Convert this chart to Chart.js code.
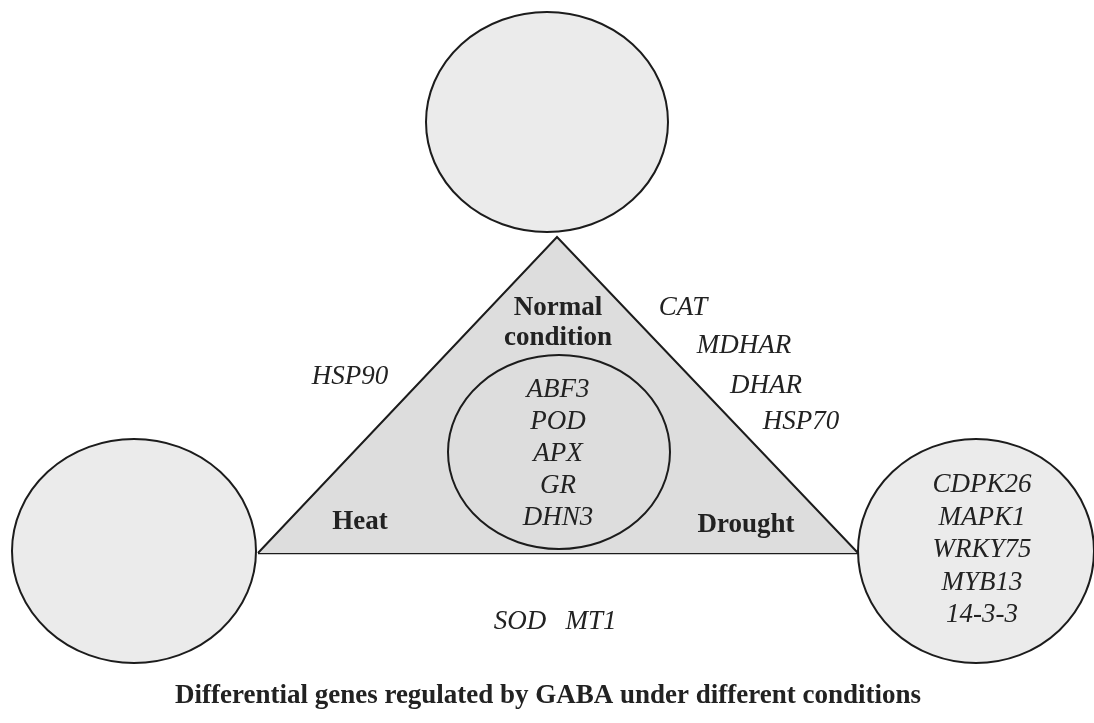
<!DOCTYPE html>
<html>
<head>
<meta charset="utf-8">
<script src="https://cdn.jsdelivr.net/npm/chart.js@4.4.1/dist/chart.umd.min.js"></script>
<style>
html,body{margin:0;padding:0;background:#fff;}
#wrap{width:1094px;height:723px;}
</style>
</head>
<body>
<div id="wrap"><canvas id="c" width="1094" height="723"></canvas></div>
<script>
// ---- Content (data) ----
const conditionLabels = ['Normal', 'condition', 'Heat', 'Drought'];
const sharedAllGenes = ['ABF3', 'POD', 'APX', 'GR', 'DHN3'];
const normalDroughtGenes = ['CAT', 'MDHAR', 'DHAR', 'HSP70'];
const normalHeatGenes = ['HSP90'];
const heatDroughtGenes = ['SOD', 'MT1'];
const droughtOnlyGenes = ['CDPK26', 'MAPK1', 'WRKY75', 'MYB13', '14-3-3'];
const titleText = 'Differential genes regulated by GABA under different conditions';

// ---- Diagram geometry (in diagram units = pixels of the 1094x723 frame) ----
const triangleX = [258, 557, 858];
const triangleY = [553, 237, 553];
const ellipseShapes = [
  {cx: 547, cy: 122, rx: 121, ry: 110, fill: true},   // top (Normal)
  {cx: 134, cy: 551, rx: 122, ry: 112, fill: true},   // left (Heat)
  {cx: 976, cy: 551, rx: 118, ry: 112, fill: true},   // right (Drought)
  {cx: 559, cy: 452, rx: 111, ry: 97, fill: false}    // inner (shared)
];
const layout = {
  condPos: [[558, 308], [558, 338], [360, 522], [746, 525]],
  sharedX: 558, sharedY0: 390, sharedStep: 32,
  ndPos: [[683, 308], [744, 346], [766, 386], [801, 422]],
  nhPos: [[350, 377]],
  hdPos: [[520, 622], [591, 622]],
  droughtX: 982, droughtY0: 485, droughtStep: 32.5,
  titlePos: [548, 696], titleWidth: 746
};
const colors = {stroke: '#1c1c1c', triFill: '#dddddd', circFill: '#ebebeb', text: '#222222'};

const diagramPlugin = {
  id: 'diagram',
  afterDatasetsDraw(chart) {
    const ctx = chart.ctx, xs = chart.scales.x, ys = chart.scales.y;
    ctx.save();
    ellipseShapes.forEach(e => {
      const cx = xs.getPixelForValue(e.cx), cy = ys.getPixelForValue(e.cy);
      const rx = Math.abs(xs.getPixelForValue(e.cx + e.rx) - cx);
      const ry = Math.abs(ys.getPixelForValue(e.cy + e.ry) - cy);
      ctx.beginPath();
      ctx.ellipse(cx, cy, rx, ry, 0, 0, Math.PI * 2);
      if (e.fill) { ctx.fillStyle = colors.circFill; ctx.fill(); }
      ctx.lineWidth = 2;
      ctx.strokeStyle = colors.stroke;
      ctx.stroke();
    });
    ctx.restore();
  },
  afterDraw(chart) {
    const ctx = chart.ctx, xs = chart.scales.x, ys = chart.scales.y;
    const P = (x, y) => [xs.getPixelForValue(x), ys.getPixelForValue(y)];
    ctx.save();
    ctx.fillStyle = colors.text;
    ctx.textAlign = 'center';
    ctx.textBaseline = 'middle';
    const put = (t, x, y) => { const p = P(x, y); ctx.fillText(t, p[0], p[1]); };
    ctx.font = 'bold 27px "Liberation Serif", "Times New Roman", serif';
    conditionLabels.forEach((t, i) => put(t, layout.condPos[i][0], layout.condPos[i][1]));
    ctx.font = 'italic 27px "Liberation Serif", "Times New Roman", serif';
    sharedAllGenes.forEach((t, i) => put(t, layout.sharedX, layout.sharedY0 + i * layout.sharedStep));
    normalDroughtGenes.forEach((t, i) => put(t, layout.ndPos[i][0], layout.ndPos[i][1]));
    normalHeatGenes.forEach((t, i) => put(t, layout.nhPos[i][0], layout.nhPos[i][1]));
    heatDroughtGenes.forEach((t, i) => put(t, layout.hdPos[i][0], layout.hdPos[i][1]));
    droughtOnlyGenes.forEach((t, i) => put(t, layout.droughtX, layout.droughtY0 + i * layout.droughtStep));
    // title
    ctx.font = 'bold 27px "Liberation Serif", "Times New Roman", serif';
    const w = ctx.measureText(titleText).width;
    const sx = layout.titleWidth / w;
    const tp = P(layout.titlePos[0], layout.titlePos[1]);
    ctx.translate(tp[0], tp[1]);
    ctx.scale(sx, 1);
    ctx.fillText(titleText, 0, 0);
    ctx.restore();
  }
};

const triData = triangleX.map((x, i) => ({x, y: triangleY[i]}));
const baseData = [{x: triangleX[0], y: triangleY[0]}, {x: triangleX[2], y: triangleY[2]}];

new Chart(document.getElementById('c'), {
  type: 'scatter',
  data: {
    datasets: [
      {
        data: triData, showLine: true, tension: 0,
        fill: {value: triangleY[0]},
        backgroundColor: colors.triFill, borderColor: colors.stroke, borderWidth: 2,
        pointRadius: 0, pointHoverRadius: 0
      },
      {
        data: baseData, showLine: true, fill: false,
        borderColor: colors.stroke, borderWidth: 2.5,
        pointRadius: 0, pointHoverRadius: 0
      }
    ]
  },
  options: {
    responsive: false, animation: false,
    layout: {padding: 0},
    plugins: {legend: {display: false}, tooltip: {enabled: false}, title: {display: false}},
    scales: {
      x: {type: 'linear', min: 0, max: 1094, display: false},
      y: {type: 'linear', min: 0, max: 723, reverse: true, display: false}
    }
  },
  plugins: [diagramPlugin]
});
</script>
</body>
</html>
